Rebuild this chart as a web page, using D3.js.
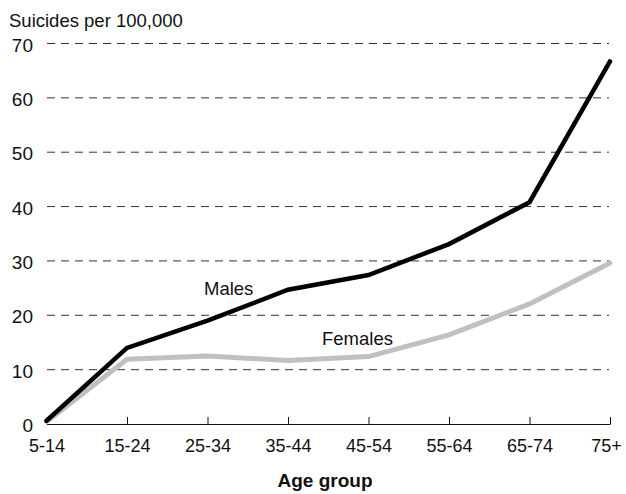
<!DOCTYPE html>
<html>
<head>
<meta charset="utf-8">
<script src="https://cdn.jsdelivr.net/npm/d3@7"></script>
<style>
  body { margin: 0; background: #fff; }
  text { font-family: "Liberation Sans", Arial, sans-serif; fill: #111; }
</style>
</head>
<body>
<script>
var ageGroups = ["5-14", "15-24", "25-34", "35-44", "45-54", "55-64", "65-74", "75+"];
var males = [0.6, 14.0, 19.0, 24.7, 27.4, 33.1, 40.8, 66.7];
var females = [0.4, 11.9, 12.5, 11.7, 12.4, 16.4, 22.1, 29.6];
var yTicks = [0, 10, 20, 30, 40, 50, 60, 70];

function init(){
    var w = 626;
    var h = 494;

    var xScale = d3.scalePoint()
                .domain(ageGroups)
                .range([46.5, 610]);

    var yScale = d3.scaleLinear()
                .domain([0, 70])
                .range([424, 43.5]);

    var svg = d3.select("body")
                .append("svg")
                .attr("width", w)
                .attr("height", h);

    // dashed gridlines
    svg.selectAll("line.grid")
        .data(yTicks.filter(function(d){ return d > 0; }))
        .enter()
        .append("line")
        .attr("class", "grid")
        .attr("x1", 47)
        .attr("x2", 609)
        .attr("y1", function(d){ return yScale(d); })
        .attr("y2", function(d){ return yScale(d); })
        .attr("stroke", "#333")
        .attr("stroke-width", 1)
        .attr("stroke-dasharray", "8,6");

    // y labels
    svg.selectAll("text.ylab")
        .data(yTicks)
        .enter()
        .append("text")
        .attr("class", "ylab")
        .attr("x", 33)
        .attr("y", function(d){ return yScale(d) + 8; })
        .attr("text-anchor", "end")
        .attr("font-size", "19px")
        .text(function(d){ return d; });

    // x axis
    var xAxis = d3.axisBottom(xScale)
                .tickSizeInner(-7)
                .tickSizeOuter(0)
                .tickPadding(23);

    var gx = svg.append("g")
        .attr("transform", "translate(0," + yScale(0) + ")")
        .call(xAxis);
    gx.attr("font-family", null).attr("font-size", null);
    gx.select(".domain").attr("stroke", "#111").attr("stroke-width", 1.2);
    gx.selectAll(".tick line").attr("stroke", "#111");
    gx.selectAll(".tick text")
        .attr("font-size", "18px")
        .attr("fill", "#111")
        .attr("dy", "0.25em")
        .attr("dx", function(d){ return d === "75+" ? -4 : 0; });

    var line = d3.line()
        .x(function(d, i){ return xScale(ageGroups[i]); })
        .y(function(d){ return yScale(d); });

    svg.append("path")
        .datum(females)
        .attr("d", line)
        .attr("fill", "none")
        .attr("stroke", "#c0c0c0")
        .attr("stroke-width", 5)
        .attr("stroke-linecap", "round");

    svg.append("path")
        .datum(males)
        .attr("d", line)
        .attr("fill", "none")
        .attr("stroke", "#000")
        .attr("stroke-width", 4.5)
        .attr("stroke-linecap", "round");

    svg.append("text")
        .attr("x", 9)
        .attr("y", 27)
        .attr("font-size", "18.5px")
        .text("Suicides per 100,000");

    svg.append("text")
        .attr("x", 204)
        .attr("y", 295)
        .attr("font-size", "18.5px")
        .text("Males");

    svg.append("text")
        .attr("x", 322)
        .attr("y", 345)
        .attr("font-size", "18.5px")
        .text("Females");

    svg.append("text")
        .attr("x", 325)
        .attr("y", 487)
        .attr("text-anchor", "middle")
        .attr("font-size", "19px")
        .attr("font-weight", "bold")
        .text("Age group");
}
window.onload = init;
</script>
</body>
</html>
